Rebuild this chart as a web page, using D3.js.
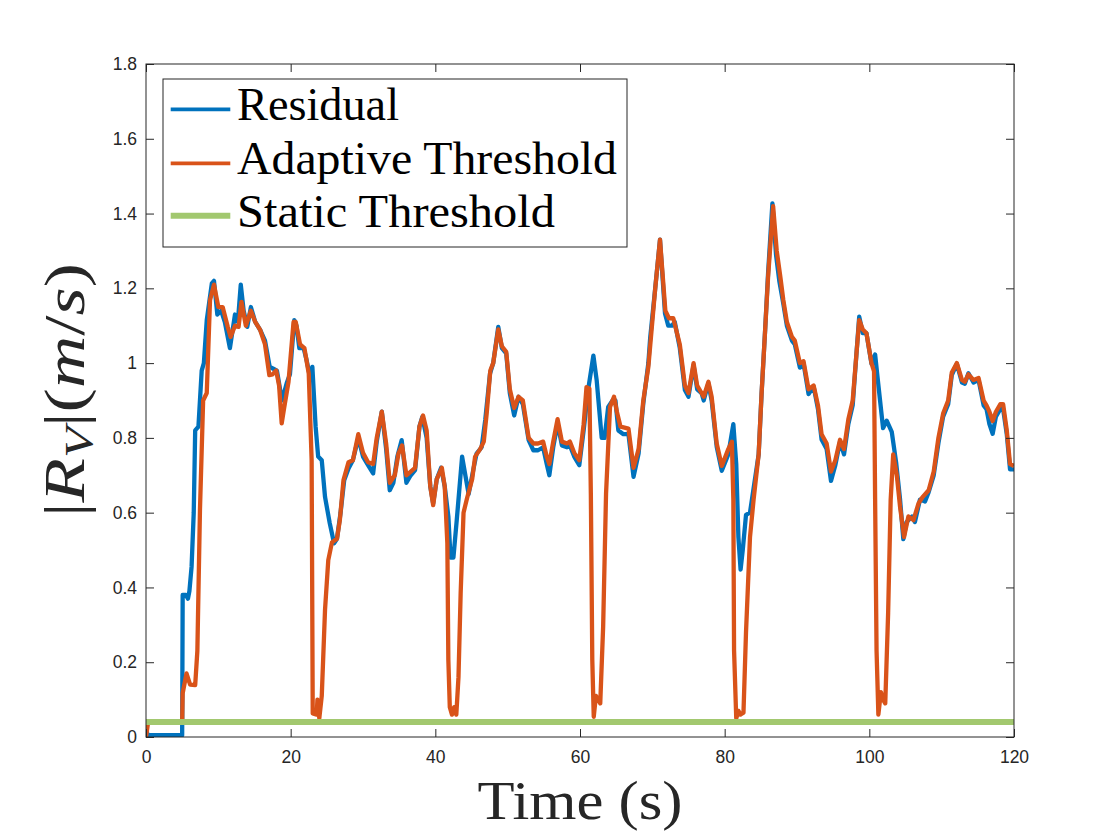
<!DOCTYPE html>
<html>
<head>
<meta charset="utf-8">
<script src="https://cdn.jsdelivr.net/npm/d3@7.9.0/dist/d3.min.js"></script>
<style>
  html, body { margin: 0; padding: 0; background: #fff; }
  svg { display: block; }
  .tick text { font-family: "Liberation Sans", Arial, sans-serif; font-size: 17.5px; fill: #262626; }
  .tick line { stroke: #262626; }
</style>
</head>
<body>
<div id="chart"></div>
<script>
// values: [time (s), |R_V| (m/s)]
const residual = [
  [0, 0.03], [0.2, 0.005], [5.0, 0.005], [5.07, 0.38], [5.5, 0.38], [5.8, 0.37], [6.0, 0.39],
  [6.3, 0.455], [6.6, 0.6], [6.8, 0.82], [7.25, 0.83], [7.7, 0.98], [8.0, 1.0], [8.4, 1.115],
  [9.1, 1.213], [9.4, 1.22], [9.86, 1.13], [10.4, 1.14], [10.9, 1.11], [11.6, 1.04], [12.3, 1.13],
  [12.7, 1.11], [13.1, 1.21], [13.5, 1.14], [14.0, 1.097], [14.5, 1.15], [15.1, 1.11], [15.8, 1.088],
  [16.45, 1.06], [17.1, 0.99], [17.6, 0.985], [18.1, 0.98], [18.8, 0.9], [19.45, 0.946], [19.9, 0.97],
  [20.5, 1.115], [20.8, 1.1], [21.2, 1.04], [21.8, 1.04], [22.2, 1.008], [22.6, 0.97], [23.0, 0.99],
  [23.45, 0.83], [23.8, 0.75], [24.3, 0.74], [24.75, 0.642], [25.4, 0.572], [26.0, 0.518], [26.4, 0.53],
  [26.9, 0.6], [27.4, 0.687], [28.0, 0.718], [28.6, 0.74], [29.35, 0.8], [30.0, 0.75], [30.7, 0.727],
  [31.4, 0.705], [31.9, 0.79], [32.6, 0.87], [33.2, 0.77], [33.7, 0.66], [34.2, 0.68], [34.75, 0.75],
  [35.35, 0.794], [36.0, 0.68], [36.6, 0.7], [37.2, 0.714], [37.8, 0.83], [38.2, 0.856], [38.8, 0.8],
  [39.3, 0.67], [39.7, 0.625], [40.2, 0.69], [40.8, 0.72], [41.3, 0.67], [41.8, 0.59], [42.1, 0.48],
  [42.5, 0.48], [42.96, 0.58], [43.7, 0.75], [44.6, 0.65], [45.3, 0.72], [45.7, 0.758], [46.4, 0.775],
  [46.9, 0.848], [47.56, 0.972], [48.0, 1.0], [48.7, 1.097], [49.2, 1.04], [49.8, 1.026], [50.3, 0.919],
  [50.9, 0.86], [51.5, 0.91], [52.1, 0.89], [52.9, 0.794], [53.55, 0.767], [54.2, 0.767], [54.9, 0.775],
  [55.4, 0.73], [55.76, 0.7], [56.3, 0.775], [56.9, 0.839], [57.5, 0.78], [58.2, 0.775], [58.6, 0.78],
  [59.2, 0.75], [59.9, 0.727], [60.5, 0.82], [61.15, 0.932], [61.85, 1.02], [62.3, 0.955], [63.0, 0.8],
  [63.4, 0.8], [63.9, 0.883], [64.5, 0.9], [64.9, 0.9], [65.3, 0.82], [66.0, 0.81], [66.7, 0.81],
  [67.4, 0.696], [68.1, 0.758], [68.75, 0.892], [69.45, 1.0], [69.7, 1.067], [70.4, 1.2], [71.06, 1.33],
  [71.75, 1.133], [72.2, 1.1], [72.7, 1.1], [73.1, 1.11], [73.8, 1.04], [74.5, 0.928], [75.0, 0.91],
  [75.7, 0.995], [76.2, 0.93], [76.8, 0.92], [77.1, 0.9], [77.75, 0.946], [78.2, 0.9], [78.9, 0.776],
  [79.6, 0.712], [80.5, 0.756], [81.2, 0.837], [81.6, 0.73], [81.9, 0.534], [82.2, 0.448], [82.5, 0.5],
  [82.95, 0.594], [83.5, 0.6], [84.0, 0.665], [84.7, 0.756], [85.1, 0.917], [85.6, 1.09], [86.0, 1.24],
  [86.6, 1.427], [87.1, 1.29], [87.55, 1.22], [88.1, 1.16], [88.6, 1.1], [89.3, 1.06], [89.7, 1.05],
  [90.4, 0.988], [90.9, 1.0], [91.6, 0.917], [92.3, 0.937], [92.9, 0.877], [93.4, 0.796], [94.1, 0.77],
  [94.7, 0.685], [95.3, 0.727], [95.95, 0.79], [96.5, 0.756], [97.1, 0.837], [97.7, 0.887], [98.2, 1.02],
  [98.6, 1.124], [99.1, 1.08], [99.6, 1.08], [100.3, 0.998], [100.8, 1.023], [101.2, 0.95], [101.9, 0.826],
  [102.4, 0.846], [103.1, 0.816], [103.7, 0.735], [104.25, 0.635], [104.7, 0.529], [105.15, 0.575],
  [105.9, 0.59], [106.3, 0.575], [107.0, 0.635], [107.7, 0.63], [108.2, 0.655], [108.9, 0.7],
  [109.55, 0.786], [110.2, 0.857], [110.9, 0.89], [111.4, 0.968], [112.1, 0.998], [112.8, 0.948],
  [113.2, 0.945], [113.7, 0.973], [114.4, 0.948], [115.1, 0.955], [115.8, 0.887], [116.2, 0.877],
  [116.6, 0.837], [117.05, 0.811], [117.5, 0.857], [118.1, 0.877], [118.5, 0.877], [119.0, 0.81],
  [119.45, 0.716], [120, 0.716]
];

const adaptive = [
  [0, 0.0], [0.3, 0.04], [5.0, 0.04], [5.07, 0.117], [5.6, 0.17], [6.1, 0.14], [6.8, 0.139], [7.1, 0.23],
  [7.46, 0.607], [7.9, 0.9], [8.4, 0.92], [8.85, 1.168], [9.4, 1.21], [10.0, 1.15], [10.6, 1.15],
  [11.3, 1.097], [11.7, 1.07], [12.3, 1.1], [12.8, 1.097], [13.2, 1.164], [13.8, 1.1], [14.5, 1.14],
  [15.1, 1.11], [15.8, 1.088], [16.45, 1.05], [17.05, 0.968], [17.5, 0.97], [18.0, 0.98], [18.4, 0.94],
  [18.76, 0.839], [19.1, 0.88], [19.7, 0.95], [20.4, 1.11], [20.7, 1.11], [21.3, 1.05], [21.9, 1.04],
  [22.5, 0.972], [22.9, 0.74], [23.05, 0.063], [23.6, 0.06], [23.7, 0.1], [23.96, 0.05], [24.3, 0.11],
  [24.75, 0.34], [25.2, 0.473], [25.7, 0.52], [26.4, 0.53], [26.8, 0.58], [27.3, 0.687], [28.0, 0.735],
  [28.6, 0.74], [29.35, 0.81], [30.0, 0.76], [30.7, 0.735], [31.4, 0.73], [31.9, 0.8], [32.6, 0.87],
  [33.2, 0.785], [33.7, 0.68], [34.4, 0.7], [34.9, 0.758], [35.4, 0.78], [36.0, 0.7], [36.6, 0.71],
  [37.2, 0.72], [37.8, 0.83], [38.3, 0.86], [38.8, 0.82], [39.3, 0.67], [39.7, 0.62], [40.2, 0.69],
  [40.9, 0.72], [41.3, 0.67], [41.66, 0.518], [41.8, 0.206], [42.0, 0.08], [42.3, 0.06], [42.6, 0.08],
  [42.9, 0.06], [43.2, 0.16], [43.5, 0.384], [43.9, 0.6], [44.4, 0.64], [45.1, 0.69], [45.5, 0.75],
  [46.2, 0.77], [46.7, 0.79], [47.1, 0.865], [47.6, 0.98], [48.0, 1.0], [48.7, 1.09], [49.2, 1.045],
  [49.8, 1.03], [50.3, 0.93], [50.9, 0.88], [51.5, 0.91], [52.1, 0.9], [52.9, 0.8], [53.55, 0.785],
  [54.2, 0.785], [54.9, 0.79], [55.4, 0.75], [55.76, 0.73], [56.3, 0.79], [56.9, 0.85], [57.5, 0.79],
  [58.2, 0.785], [58.6, 0.79], [59.2, 0.76], [59.9, 0.74], [60.5, 0.836], [60.9, 0.936], [61.3, 0.932],
  [61.5, 0.65], [61.7, 0.206], [61.9, 0.054], [62.2, 0.11], [62.5, 0.1], [62.8, 0.09], [63.2, 0.295],
  [63.6, 0.65], [64.15, 0.883], [64.7, 0.91], [65.1, 0.87], [65.6, 0.83], [66.7, 0.825], [67.4, 0.72],
  [68.1, 0.77], [68.75, 0.9], [69.45, 0.99], [70.4, 1.2], [71.06, 1.33], [71.8, 1.14], [72.3, 1.12],
  [72.9, 1.12], [73.8, 1.05], [74.5, 0.94], [75.0, 0.92], [75.7, 1.0], [76.2, 0.94], [77.1, 0.91],
  [77.75, 0.95], [78.2, 0.91], [78.9, 0.785], [79.6, 0.725], [80.5, 0.77], [81.0, 0.79], [81.2, 0.635],
  [81.3, 0.231], [81.6, 0.05], [81.9, 0.07], [82.2, 0.06], [82.6, 0.065], [82.95, 0.28], [83.5, 0.534],
  [84.0, 0.635], [84.7, 0.756], [85.1, 0.917], [85.6, 1.09], [86.0, 1.23], [86.7, 1.42], [87.2, 1.3],
  [87.7, 1.23], [88.1, 1.17], [88.6, 1.11], [89.3, 1.07], [89.7, 1.06], [90.4, 1.0], [90.9, 1.005],
  [91.6, 0.93], [92.3, 0.94], [92.9, 0.887], [93.4, 0.81], [94.1, 0.785], [94.7, 0.71], [95.3, 0.74],
  [95.95, 0.795], [96.5, 0.77], [97.1, 0.85], [97.7, 0.9], [98.2, 1.02], [98.6, 1.115], [99.1, 1.09],
  [99.6, 1.08], [100.3, 1.0], [100.65, 0.978], [100.8, 0.635], [101.0, 0.23], [101.25, 0.06],
  [101.6, 0.12], [101.9, 0.1], [102.2, 0.09], [102.6, 0.332], [102.95, 0.635], [103.3, 0.756],
  [103.8, 0.7], [104.25, 0.615], [104.8, 0.535], [105.4, 0.59], [106.1, 0.58], [106.8, 0.625],
  [107.3, 0.64], [108.2, 0.66], [108.9, 0.71], [109.55, 0.8], [110.2, 0.865], [110.9, 0.9],
  [111.4, 0.975], [112.1, 1.0], [112.8, 0.955], [113.2, 0.95], [113.7, 0.97], [114.4, 0.955],
  [115.1, 0.96], [115.8, 0.9], [116.2, 0.887], [116.6, 0.87], [117.05, 0.845], [117.5, 0.87],
  [118.1, 0.89], [118.5, 0.89], [119.0, 0.82], [119.45, 0.73], [120, 0.725]
];

const staticThreshold = [[0, 0.04], [120, 0.04]];

const xTicks = [0, 20, 40, 60, 80, 100, 120];
const yTicks = [0, 0.2, 0.4, 0.6, 0.8, 1, 1.2, 1.4, 1.6, 1.8];
const legendLabels = ["Residual", "Adaptive Threshold", "Static Threshold"];

function renderChart() {
  const width = 1120;
  const height = 840;
  const margin = { top: 64, right: 106, bottom: 103, left: 146 };
  const axisColor = "#262626";

  const svg = d3.select("#chart")
    .append("svg")
    .attr("width", width)
    .attr("height", height);

  const x = d3.scaleLinear().domain([0, 120]).range([margin.left, width - margin.right]);
  const y = d3.scaleLinear().domain([0, 1.8]).range([height - margin.bottom, margin.top]);

  svg.append("defs").append("clipPath").attr("id", "plot-clip")
    .append("rect")
    .attr("x", x(0)).attr("y", y(1.8))
    .attr("width", x(120) - x(0)).attr("height", y(0) - y(1.8));

  // series, green drawn last so it sits on top
  const series = [
    { name: legendLabels[0], data: residual, color: "#0072BD", width: 4.3, legendWidth: 3.8 },
    { name: legendLabels[1], data: adaptive, color: "#D95319", width: 4.3, legendWidth: 3.8 },
    { name: legendLabels[2], data: staticThreshold, color: "#A2C86F", width: 6, legendWidth: 6 }
  ];

  const line = d3.line().x(d => x(d[0])).y(d => y(d[1]));

  const lines = svg.append("g").attr("clip-path", "url(#plot-clip)");
  lines.selectAll("path")
    .data(series)
    .join("path")
    .attr("d", d => line(d.data))
    .attr("fill", "none")
    .attr("stroke", d => d.color)
    .attr("stroke-width", d => d.width)
    .attr("stroke-linejoin", "round");

  const fmt = d => String(+d.toFixed(1));

  // axes with inward ticks on all four sides
  const bottom = svg.append("g")
    .attr("transform", `translate(0, ${y(0)})`)
    .call(d3.axisBottom(x).tickValues(xTicks).tickFormat(fmt).tickSizeInner(-8).tickSizeOuter(0).tickPadding(14));
  const left = svg.append("g")
    .attr("transform", `translate(${x(0)}, 0)`)
    .call(d3.axisLeft(y).tickValues(yTicks).tickFormat(fmt).tickSizeInner(-8).tickSizeOuter(0).tickPadding(9));
  const top = svg.append("g")
    .attr("transform", `translate(0, ${y(1.8)})`)
    .call(d3.axisTop(x).tickValues(xTicks).tickFormat("").tickSizeInner(-8).tickSizeOuter(0));
  const right = svg.append("g")
    .attr("transform", `translate(${x(120)}, 0)`)
    .call(d3.axisRight(y).tickValues(yTicks).tickFormat("").tickSizeInner(-8).tickSizeOuter(0));

  [bottom, left, top, right].forEach(g => g.select(".domain").remove());

  svg.append("rect")
    .attr("x", x(0)).attr("y", y(1.8))
    .attr("width", x(120) - x(0)).attr("height", y(0) - y(1.8))
    .attr("fill", "none")
    .attr("stroke", axisColor)
    .attr("stroke-width", 1);

  // x label
  svg.append("text")
    .attr("x", (x(0) + x(120)) / 2)
    .attr("y", 819)
    .attr("text-anchor", "middle")
    .attr("font-family", "'Liberation Serif', 'Times New Roman', serif")
    .attr("font-size", 54)
    .attr("fill", axisColor)
    .attr("textLength", 205)
    .attr("lengthAdjust", "spacingAndGlyphs")
    .text("Time (s)");

  // y label |R_V|(m/s)
  const yl = svg.append("text")
    .attr("transform", `translate(84, 390) rotate(-90)`)
    .attr("text-anchor", "middle")
    .attr("font-family", "'Liberation Serif', 'Times New Roman', serif")
    .attr("font-size", 56)
    .attr("fill", axisColor)
    .attr("textLength", 254)
    .attr("lengthAdjust", "spacingAndGlyphs");
  yl.append("tspan").text("|");
  yl.append("tspan").attr("font-style", "italic").text("R");
  yl.append("tspan").attr("font-style", "italic").attr("font-size", 39).attr("dy", 8).text("V");
  yl.append("tspan").attr("dy", -8).text("|(");
  yl.append("tspan").attr("font-style", "italic").text("m");
  yl.append("tspan").text("/");
  yl.append("tspan").attr("font-style", "italic").text("s");
  yl.append("tspan").text(")");

  // legend
  const legend = svg.append("g");
  legend.append("rect")
    .attr("x", 163).attr("y", 79)
    .attr("width", 464).attr("height", 168)
    .attr("fill", "#fff")
    .attr("stroke", axisColor)
    .attr("stroke-width", 1);

  const rowY = [109.3, 163.3, 215.7];
  const textLengths = [162, 380, 318];
  const rows = legend.selectAll("g.row")
    .data(series)
    .join("g")
    .attr("class", "row")
    .attr("transform", (d, i) => `translate(0, ${rowY[i]})`);

  rows.append("line")
    .attr("x1", 170.7).attr("x2", 230.3)
    .attr("stroke", d => d.color)
    .attr("stroke-width", d => d.legendWidth);

  rows.append("text")
    .attr("x", 237)
    .attr("y", 11)
    .attr("font-family", "'Liberation Serif', 'Times New Roman', serif")
    .attr("font-size", 46)
    .attr("fill", "#000")
    .attr("textLength", (d, i) => textLengths[i])
    .attr("lengthAdjust", "spacingAndGlyphs")
    .text(d => d.name);
}

renderChart();
</script>
</body>
</html>
